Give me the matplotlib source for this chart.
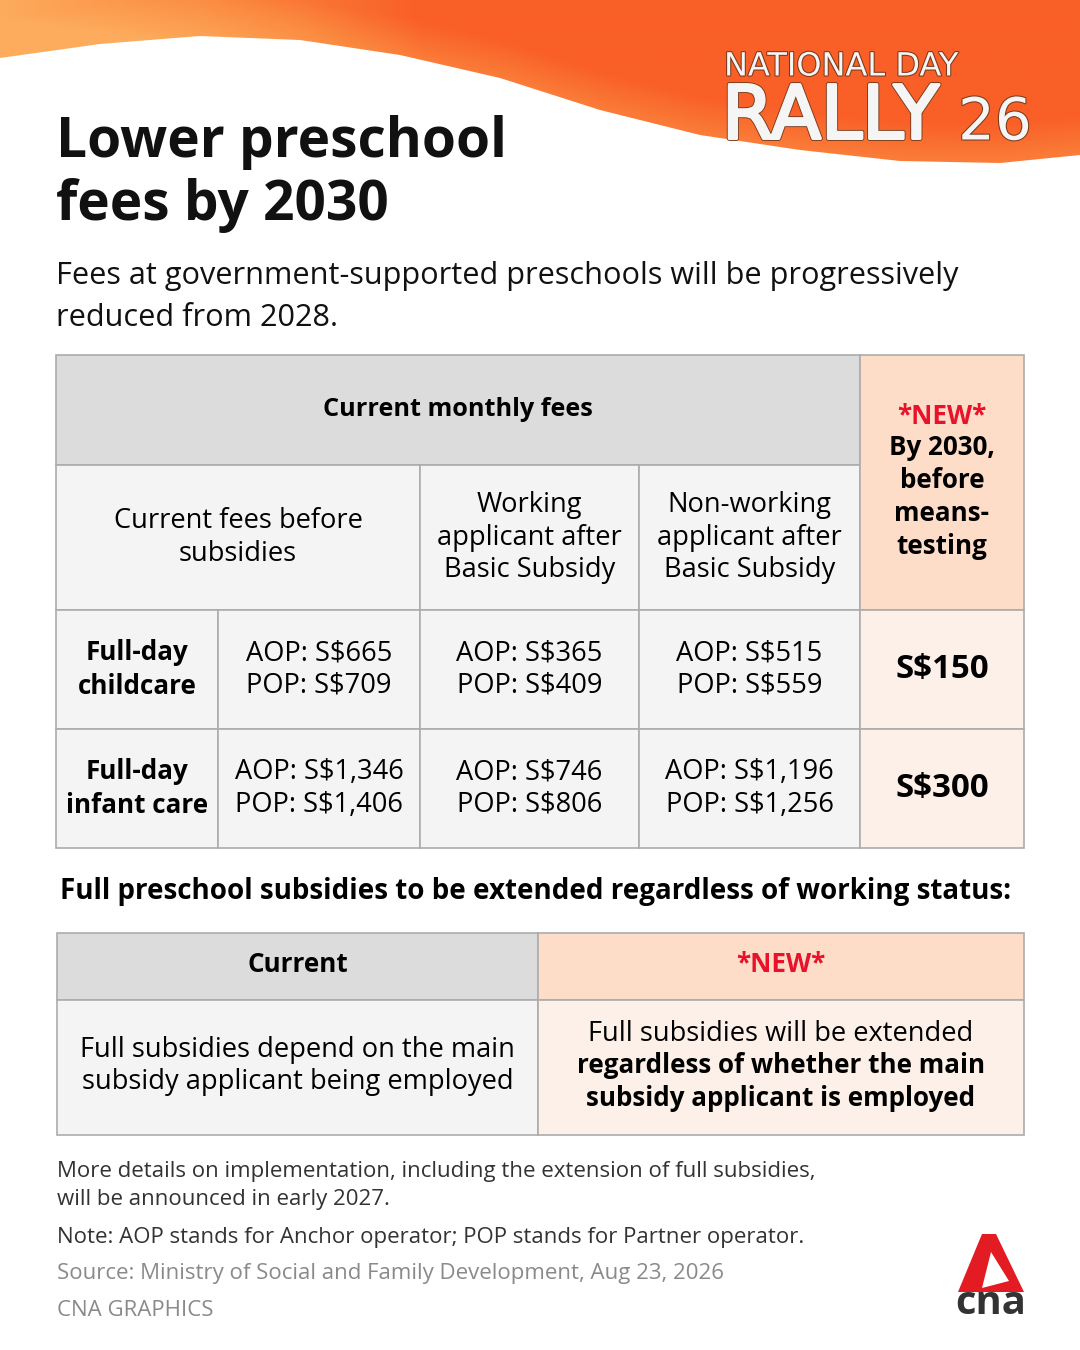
import numpy as np
import matplotlib.pyplot as plt
from matplotlib.patches import Rectangle, Polygon
from matplotlib.colors import LinearSegmentedColormap
import matplotlib.patheffects as pe

plt.rcParams['font.family'] = ['Open Sans', 'DejaVu Sans']

# table data
row_labels = ["Full-day\nchildcare", "Full-day\ninfant care"]
aop_before = ["S$665", "S$1,346"]
pop_before = ["S$709", "S$1,406"]
aop_working = ["S$365", "S$746"]
pop_working = ["S$409", "S$806"]
aop_nonworking = ["S$515", "S$1,196"]
pop_nonworking = ["S$559", "S$1,256"]
new_fee = ["S$150", "S$300"]

col_headers = ["Current fees before\nsubsidies", "Working\napplicant after\nBasic Subsidy",
               "Non-working\napplicant after\nBasic Subsidy"]
current_txt = "Full subsidies depend on the main\nsubsidy applicant being employed"
new_txt_plain = "Full subsidies will be extended"
new_txt_bold = "regardless of whether the main\nsubsidy applicant is employed"

GRAY_HEAD = "#dcdcdc"
GRAY_BODY = "#f4f4f4"
PEACH_HEAD = "#fddcc8"
PEACH_BODY = "#fdf0e8"
EDGE = "#acacac"
RED = "#e8132b"

def pt(px):
    return px * 0.72

fig = plt.figure(figsize=(10.8, 13.5), dpi=100)
ax = fig.add_axes([0, 0, 1, 1])
ax.set_xlim(0, 1080)
ax.set_ylim(1350, 0)
ax.axis('off')

# orange header wave
wx = np.array([0, 100, 200, 300, 400, 500, 600, 700, 800, 900, 1000, 1080])
wy = np.array([58, 44, 36, 40, 55, 78, 110, 135, 150, 161, 163, 155])
xs = np.linspace(0, 1080, 300)
ys = np.interp(xs, wx, wy)
grad_x = np.clip(xs / 420.0, 0, 1)
gy = np.linspace(0, 170, 120)
G = np.empty((len(gy), len(xs)))
for j, yv in enumerate(gy):
    G[j] = grad_x - 0.35 * np.clip((yv - ys + 40) / 40.0, 0, 1)
cmap = LinearSegmentedColormap.from_list("hdr", ["#fdab5c", "#fb8a40", "#f95f27"])
im = ax.imshow(G, extent=[0, 1080, 170, 0], cmap=cmap, vmin=0, vmax=1,
               aspect='auto', zorder=1, interpolation='bilinear')
clip = Polygon(np.column_stack([np.r_[0, xs, 1080], np.r_[0, ys, 0]]),
               closed=True, transform=ax.transData, facecolor='none', edgecolor='none')
ax.add_patch(clip)
im.set_clip_path(clip)
ax.set_xlim(0, 1080)
ax.set_ylim(1350, 0)

# NDR logo
shadow = [pe.withStroke(linewidth=1.5, foreground="#7a3a1a")]
heavy = [pe.withStroke(linewidth=3.5, foreground="#7a3a1a"),
         pe.withStroke(linewidth=2.2, foreground="#f5f5f5")]
ax.text(724, 67, "NATIONAL DAY", fontsize=pt(32), color="#f5f5f5", family="DejaVu Sans",
        va='center', ha='left', path_effects=shadow, zorder=3)
ax.text(722, 118, "RALLY", fontsize=pt(74), color="#f5f5f5", family="DejaVu Sans",
        va='center', ha='left', path_effects=heavy, zorder=3)
ax.text(958, 123, "26", fontsize=pt(58), color="#f5f5f5", family="DejaVu Sans",
        va='center', ha='left', path_effects=shadow, zorder=3)

# title and subtitle
ax.text(56, 157, "Lower preschool", fontsize=pt(55), fontweight='bold', va='baseline', color='#111')
ax.text(56, 220, "fees by 2030", fontsize=pt(55), fontweight='bold', va='baseline', color='#111')
ax.text(56, 284, "Fees at government-supported preschools will be progressively",
        fontsize=pt(30.6), va='baseline', color='#111')
ax.text(56, 326, "reduced from 2028.", fontsize=pt(30.6), va='baseline', color='#111')

# main table
cx = [56, 218, 420, 639, 860, 1024]
ry = [355, 465, 610, 729, 848]

def cell(x0, y0, x1, y1, fc):
    ax.add_patch(Rectangle((x0, y0), x1 - x0, y1 - y0, facecolor=fc, edgecolor=EDGE,
                           linewidth=1.2, zorder=2))

cell(cx[0], ry[0], cx[4], ry[1], GRAY_HEAD)
cell(cx[0], ry[1], cx[2], ry[2], GRAY_BODY)
cell(cx[2], ry[1], cx[3], ry[2], GRAY_BODY)
cell(cx[3], ry[1], cx[4], ry[2], GRAY_BODY)
cell(cx[4], ry[0], cx[5], ry[2], PEACH_HEAD)
for r in range(2):
    for c in range(4):
        cell(cx[c], ry[r + 2], cx[c + 1], ry[r + 3], GRAY_BODY)
    cell(cx[4], ry[r + 2], cx[5], ry[r + 3], PEACH_BODY)

body_fs = pt(27.3)
bold_fs = pt(26)
ax.text((cx[0] + cx[4]) / 2, (ry[0] + ry[1]) / 2, "Current monthly fees", fontsize=pt(25.3),
        fontweight='bold', ha='center', va='center', zorder=3)
mid_sub = (ry[1] + ry[2]) / 2
ax.text((cx[0] + cx[2]) / 2, mid_sub, col_headers[0], fontsize=body_fs, ha='center',
        va='center', linespacing=1.2, zorder=3)
ax.text((cx[2] + cx[3]) / 2, mid_sub, col_headers[1], fontsize=body_fs, ha='center',
        va='center', linespacing=1.2, zorder=3)
ax.text((cx[3] + cx[4]) / 2, mid_sub, col_headers[2], fontsize=body_fs, ha='center',
        va='center', linespacing=1.2, zorder=3)

rc = (cx[4] + cx[5]) / 2
ax.text(rc, 416, "*NEW*", fontsize=bold_fs, fontweight='bold', color=RED, ha='center',
        va='center', zorder=3)
ax.text(rc, 497, "By 2030,\nbefore\nmeans-\ntesting", fontsize=bold_fs, fontweight='bold',
        ha='center', va='center', linespacing=1.3, zorder=3)

cols = [(aop_before, pop_before), (aop_working, pop_working), (aop_nonworking, pop_nonworking)]
for r in range(2):
    ym = (ry[r + 2] + ry[r + 3]) / 2
    ax.text((cx[0] + cx[1]) / 2, ym, row_labels[r], fontsize=bold_fs, fontweight='bold',
            ha='center', va='center', linespacing=1.3, zorder=3)
    for c, (aop, pop) in enumerate(cols):
        ax.text((cx[c + 1] + cx[c + 2]) / 2, ym, f"AOP: {aop[r]}\nPOP: {pop[r]}",
                fontsize=body_fs, ha='center', va='center', linespacing=1.2, zorder=3)
    ax.text(rc, ym, new_fee[r], fontsize=pt(33), fontweight='bold', ha='center',
            va='center', zorder=3)

# section heading
ax.text(60, 892, "Full preschool subsidies to be extended regardless of working status:",
        fontsize=pt(27.7), fontweight='bold', ha='left', va='center')

# second table
tx = [57, 538, 1024]
ty = [933, 1000, 1135]
cell(tx[0], ty[0], tx[1], ty[1], GRAY_HEAD)
cell(tx[1], ty[0], tx[2], ty[1], PEACH_HEAD)
cell(tx[0], ty[1], tx[1], ty[2], GRAY_BODY)
cell(tx[1], ty[1], tx[2], ty[2], PEACH_BODY)
ax.text((tx[0] + tx[1]) / 2, 965, "Current", fontsize=bold_fs, fontweight='bold',
        ha='center', va='center', zorder=3)
ax.text((tx[1] + tx[2]) / 2, 965, "*NEW*", fontsize=bold_fs, fontweight='bold', color=RED,
        ha='center', va='center', zorder=3)
ax.text((tx[0] + tx[1]) / 2, 1066, current_txt, fontsize=body_fs, ha='center',
        va='center', linespacing=1.15, zorder=3)
ax.text((tx[1] + tx[2]) / 2, 1034, new_txt_plain, fontsize=body_fs, ha='center',
        va='center', zorder=3)
ax.text((tx[1] + tx[2]) / 2, 1082, new_txt_bold, fontsize=bold_fs, fontweight='bold',
        ha='center', va='center', linespacing=1.25, zorder=3)

# footer notes
ax.text(57, 1172, "More details on implementation, including the extension of full subsidies,",
        fontsize=pt(22.3), color='#333', va='center')
ax.text(57, 1200, "will be announced in early 2027.", fontsize=pt(22.3), color='#333', va='center')
ax.text(57, 1237, "Note: AOP stands for Anchor operator; POP stands for Partner operator.",
        fontsize=pt(22.3), color='#333', va='center')
ax.text(57, 1274, "Source: Ministry of Social and Family Development, Aug 23, 2026",
        fontsize=pt(22.3), color='#8a8a8a', va='center')
ax.text(57, 1310, "CNA GRAPHICS", fontsize=pt(22.3), color='#8a8a8a', va='center')

# cna logo
ax.add_patch(Polygon([(958, 1292), (982, 1234), (996, 1234), (1024, 1292)], closed=True,
                     facecolor="#e31b23", edgecolor='none', zorder=3))
ax.add_patch(Polygon([(991, 1252), (982, 1288), (1009, 1281)], closed=True,
                     facecolor='white', edgecolor='none', zorder=4))
ax.text(991, 1303, "cna", fontsize=pt(40), fontweight='bold', color='#333', ha='center',
        va='center', zorder=3)

fig.savefig("out.png", dpi=100)
